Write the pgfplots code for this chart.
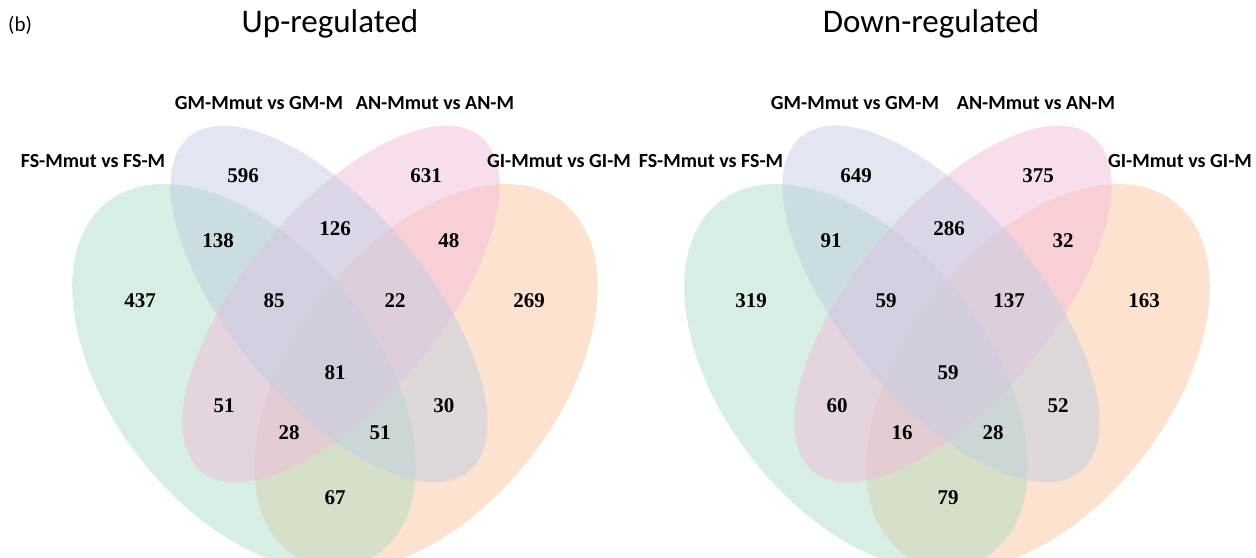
\documentclass[border=0pt]{standalone}
\usepackage{pgfplots}
\pgfplotsset{compat=1.18}
\usepackage{pgfplotstable}
\usepackage{fontspec}
\setmainfont{Carlito}
\newfontfamily\numfont{Liberation Serif}

\definecolor{vgreen}{RGB}{173,221,199}
\definecolor{vorange}{RGB}{251,199,159}
\definecolor{vblue}{RGB}{195,205,227}
\definecolor{vpink}{RGB}{241,187,219}

% region counts: x, y, count
\pgfplotstableread{
x   y   n
243 382 596
426 382 631
218 317 138
335 329 126
449 317 48
140 257 437
274 257 85
395 257 22
529 257 269
335 185 81
224 152 51
444 152 30
289 125 28
380 125 51
335 60  67
}\upcounts

\pgfplotstableread{
x    y   n
856  382 649
1038 382 375
831  317 91
949  329 286
1063 317 32
751  257 319
886  257 59
1009 257 137
1144 257 163
948  185 59
837  152 60
1058 152 52
902  125 16
993  125 28
948  60  79
}\downcounts

\tikzset{
  setlabel/.style={font=\bfseries\fontsize{20bp}{24bp}\selectfont, anchor=base},
  paneltitle/.style={font=\fontsize{33bp}{38bp}\selectfont, anchor=base},
}
\pgfplotsset{
  vennpanel/.style={
    hide axis, clip=false,
    x=1bp, y=1bp,
    ymin=0, ymax=558,
    anchor=south west,
  },
  counts/.style={
    draw=none, mark=none,
    nodes near coords,
    point meta=explicit symbolic,
    every node near coord/.style={anchor=center, inner sep=0pt,
      font=\numfont\bfseries\fontsize{21bp}{24bp}\selectfont, text=black},
  },
}

% four ellipses of a Venn diagram centred on the vertical line x = #1
\newcommand\venn[1]{%
  \fill[vorange, fill opacity=0.5]
    (axis cs:#1+91,181) ellipse [x radius=222, y radius=132, rotate=52];
  \fill[vgreen, fill opacity=0.5]
    (axis cs:#1-91,181) ellipse [x radius=222, y radius=132, rotate=-52];
  \fill[vpink, fill opacity=0.5]
    (axis cs:#1+6,254) ellipse [x radius=218, y radius=97, rotate=50];
  \fill[vblue, fill opacity=0.5]
    (axis cs:#1-6,254) ellipse [x radius=218, y radius=97, rotate=-50];
}

\begin{document}
\begin{tikzpicture}
\useasboundingbox (0,0) rectangle (1256bp,558bp);

% Up-regulated
\begin{axis}[vennpanel, xmin=0, xmax=628, at={(0,0)}]
  \venn{335}
  \addplot[counts] table[x=x, y=y, meta=n] {\upcounts};
  \node[anchor=base west, inner sep=0pt, font=\fontsize{21bp}{24bp}\selectfont] at (axis cs:8,526) {(b)};
  \node[paneltitle] at (axis cs:330,525) {Up-regulated};
  \node[setlabel] at (axis cs:93,390)  {FS-Mmut vs FS-M};
  \node[setlabel] at (axis cs:259,448) {GM-Mmut vs GM-M};
  \node[setlabel] at (axis cs:435,448) {AN-Mmut vs AN-M};
  \node[setlabel] at (axis cs:559,390) {GI-Mmut vs GI-M};
\end{axis}

% Down-regulated
\begin{axis}[vennpanel, xmin=628, xmax=1256, at={(628bp,0)}]
  \venn{947}
  \addplot[counts] table[x=x, y=y, meta=n] {\downcounts};
  \node[paneltitle] at (axis cs:931,525) {Down-regulated};
  \node[setlabel] at (axis cs:711,390)  {FS-Mmut vs FS-M};
  \node[setlabel] at (axis cs:855,448)  {GM-Mmut vs GM-M};
  \node[setlabel] at (axis cs:1036,448) {AN-Mmut vs AN-M};
  \node[setlabel] at (axis cs:1180,390) {GI-Mmut vs GI-M};
\end{axis}
\end{tikzpicture}
\end{document}
